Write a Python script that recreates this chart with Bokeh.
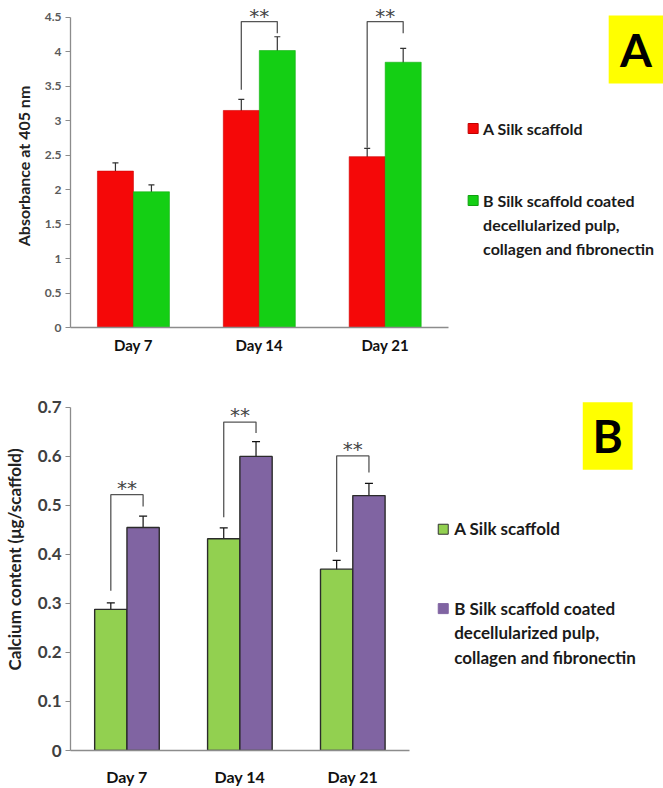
from bokeh.plotting import figure
from bokeh.layouts import column
from bokeh.models import ColumnDataSource, Range1d, FixedTicker, Whisker, TeeHead
from bokeh.transform import dodge
from bokeh.core.properties import value
from bokeh.embed import file_html
from bokeh.resources import INLINE

days = ["Day 7", "Day 14", "Day 21"]
series_names = ["A Silk scaffold",
                "B Silk scaffold coated\ndecellularized pulp,\ncollagen and fibronectin"]

# ---- Panel A : absorbance at 405 nm ----
a_silk = [2.27, 3.15, 2.48]
a_silk_err = [0.12, 0.16, 0.12]
a_coated = [1.97, 4.02, 3.85]
a_coated_err = [0.10, 0.20, 0.20]
a_ticks = [0, 0.5, 1, 1.5, 2, 2.5, 3, 3.5, 4, 4.5]
a_tick_labels = ["0", "0.5", "1", "1.5", "2", "2.5", "3", "3.5", "4", "4.5"]
a_sig_day = [1, 2]
a_sig_left = [3.45, 2.61]
a_sig_top = [4.44, 4.44]
a_sig_right = [4.27, 4.27]

# ---- Panel B : calcium content ----
b_silk = [0.288, 0.432, 0.370]
b_silk_err = [0.013, 0.022, 0.018]
b_coated = [0.455, 0.600, 0.520]
b_coated_err = [0.023, 0.030, 0.025]
b_ticks = [0, 0.1, 0.2, 0.3, 0.4, 0.5, 0.6, 0.7]
b_tick_labels = ["0", "0.1", "0.2", "0.3", "0.4", "0.5", "0.6", "0.7"]
b_sig_day = [0, 1, 2]
b_sig_left = [0.326, 0.476, 0.405]
b_sig_top = [0.522, 0.670, 0.601]
b_sig_right = [0.498, 0.648, 0.567]

FONT = "Lato"
BW = 0.286
LEFT = 68
W = 663


def panel(cfg):
    n = len(days)
    p = figure(width=W, height=cfg["height"], output_backend="svg", toolbar_location=None,
               x_range=Range1d(0, cfg["xend"]), y_range=Range1d(0, cfg["ytop"]),
               min_border_left=LEFT, min_border_right=0,
               min_border_top=cfg["btop"], min_border_bottom=cfg["bbottom"])
    p.outline_line_color = None
    p.grid.visible = False
    p.background_fill_color = "white"

    xs = [i + 0.5 for i in range(n)]
    src = ColumnDataSource(dict(
        x=xs, day=days,
        s1=cfg["s1"], s2=cfg["s2"],
        s1_up=[v + e for v, e in zip(cfg["s1"], cfg["e1"])],
        s1_lo=[v - e for v, e in zip(cfg["s1"], cfg["e1"])],
        s2_up=[v + e for v, e in zip(cfg["s2"], cfg["e2"])],
        s2_lo=[v - e for v, e in zip(cfg["s2"], cfg["e2"])],
    ))
    p.vbar(x=dodge("x", -BW / 2), top="s1", width=BW, source=src,
           fill_color=cfg["c1"], line_color=cfg["lc1"], line_width=cfg["lw"])
    p.vbar(x=dodge("x", BW / 2), top="s2", width=BW, source=src,
           fill_color=cfg["c2"], line_color=cfg["lc2"], line_width=cfg["lw"])

    for off, up, lo in [(-BW / 2, "s1_up", "s1_lo"), (BW / 2, "s2_up", "s2_lo")]:
        w = Whisker(source=src, base=dodge("x", off), upper=up, lower=lo,
                    line_color=cfg["errc"], line_width=1.2,
                    upper_head=TeeHead(size=cfg["cap"], line_color=cfg["errc"], line_width=1.2),
                    lower_head=TeeHead(size=cfg["cap"], line_color=cfg["errc"], line_width=1.2))
        p.add_layout(w)

    # significance brackets
    bxs, bys, sx, sy = [], [], [], []
    for d, l, t, r in zip(cfg["sig_day"], cfg["sig_left"], cfg["sig_top"], cfg["sig_right"]):
        xl = d + 0.5 - BW / 2
        xr = d + 0.5 + BW / 2
        bxs.append([xl, xl, xr, xr])
        bys.append([l, t, t, r])
        sx.append(d + 0.5)
        sy.append(t)
    p.multi_line(xs=bxs, ys=bys, line_color="#555555", line_width=1.3)
    p.text(x=sx, y=sy, text=["**"] * len(sx), text_align="center", text_baseline="bottom",
           y_offset=cfg["star_off"], text_font=value("DejaVu Sans"), text_font_size="20px",
           text_color="#444444")

    # axes
    yax = p.yaxis[0]
    yax.ticker = FixedTicker(ticks=cfg["ticks"])
    yax.major_label_overrides = {t: l for t, l in zip(cfg["ticks"], cfg["tick_labels"])}
    yax.bounds = (0, cfg["ticks"][-1])
    yax.minor_tick_line_color = None
    yax.major_tick_in = 0
    yax.major_tick_out = 5
    yax.axis_line_color = "#8c8c8c"
    yax.axis_line_width = 1.3
    yax.major_tick_line_color = "#8c8c8c"
    yax.major_label_text_font = FONT
    yax.major_label_text_font_size = cfg["tick_fs"]
    yax.major_label_text_font_style = cfg["tick_style"]
    yax.major_label_text_color = cfg["tick_col"]
    yax.major_label_standoff = 4
    yax.axis_label = cfg["ylabel"]
    yax.axis_label_text_font = FONT
    yax.axis_label_text_font_style = "bold"
    yax.axis_label_text_font_size = cfg["ylab_fs"]
    yax.axis_label_text_color = "#222222"
    yax.axis_label_standoff = cfg["ylab_standoff"]

    xax = p.xaxis[0]
    xax.ticker = FixedTicker(ticks=xs)
    xax.major_label_overrides = {x: d for x, d in zip(xs, days)}
    xax.bounds = (0, n)
    xax.minor_tick_line_color = None
    xax.major_tick_line_color = None
    xax.major_tick_out = 0
    xax.major_tick_in = 0
    xax.axis_label_standoff = 0
    xax.axis_line_color = "#8c8c8c"
    xax.axis_line_width = 1.3
    xax.major_label_text_font = FONT
    xax.major_label_text_font_style = "bold"
    xax.major_label_text_font_size = cfg["xlab_fs"]
    xax.major_label_text_color = "#111111"
    xax.major_label_standoff = cfg["xlab_standoff"]

    # legend (manual)
    lx, ly1, ly2, tx = cfg["leg"]
    p.scatter(x=[lx], y=[ly1], marker="square", size=10, fill_color=cfg["c1"],
              line_color=cfg["leg_lc1"], line_width=1)
    p.scatter(x=[lx], y=[ly2], marker="square", size=10, fill_color=cfg["c2"],
              line_color=cfg["leg_lc2"], line_width=1)
    p.text(x=[tx, tx], y=[ly1, ly2], text=series_names, text_align="left",
           text_baseline="top", y_offset=cfg["leg_off"], text_font=value(FONT),
           text_font_style="bold", text_font_size=cfg["leg_fs"], text_color="#1a1a1a",
           text_line_height=cfg["leg_lh"])

    # panel tag
    bx0, bx1, by0, by1, tag = cfg["tag"]
    p.quad(left=[bx0], right=[bx1], bottom=[by0], top=[by1], fill_color="#ffff00", line_color=None)
    p.text(x=[(bx0 + bx1) / 2], y=[(by0 + by1) / 2], text=[tag], text_align="center",
           text_baseline="middle", text_font=value(FONT), text_font_style="bold",
           text_font_size=cfg["tag_fs"], text_color="black")
    return p


FW = W - LEFT  # frame width in px

# panel A geometry (page px): axis 68..447 for 3 days, y: 0 at 327, 68.9 px per unit
ua = 126.3
pa = 68.9
A0 = 327
cfgA = dict(height=360, xend=FW / ua, ytop=(A0 - 4) / pa, btop=4, bbottom=360 - A0,
            s1=a_silk, s2=a_coated, e1=a_silk_err, e2=a_coated_err,
            c1="#f50808", c2="#14cf14", lc1="#d00000", lc2="#10b010", lw=0.6,
            errc="#333333", cap=6,
            sig_day=a_sig_day, sig_left=a_sig_left, sig_top=a_sig_top, sig_right=a_sig_right,
            star_off=6,
            ticks=a_ticks, tick_labels=a_tick_labels, tick_fs="12px", tick_style="bold",
            tick_col="#5a5a5a",
            ylabel="Absorbance at 405 nm", ylab_fs="16px", ylab_standoff=9,
            xlab_fs="15px", xlab_standoff=8,
            leg=((472 - LEFT) / ua, (A0 - 128) / pa, (A0 - 200) / pa, (482 - LEFT) / ua),
            leg_lc1="#c00000", leg_lc2="#10a010", leg_fs="16px", leg_lh=1.27, leg_off=-10,
            tag=((608 - LEFT) / ua, FW / ua, (A0 - 83) / pa, (A0 - 15) / pa, "A"),
            tag_fs="46px")

# panel B geometry (page px): figure starts at 360, axis 68..408, 0 at 753, 494 px per unit
ub = 113.3
pb = 494.0
B0 = 753 - 360
cfgB = dict(height=428, xend=FW / ub, ytop=(B0 - 8) / pb, btop=8, bbottom=428 - B0,
            s1=b_silk, s2=b_coated, e1=b_silk_err, e2=b_coated_err,
            c1="#92d050", c2="#8064a2", lc1="#2b2b2b", lc2="#2b2b2b", lw=1.4,
            errc="#111111", cap=8,
            sig_day=b_sig_day, sig_left=b_sig_left, sig_top=b_sig_top, sig_right=b_sig_right,
            star_off=5,
            ticks=b_ticks, tick_labels=b_tick_labels, tick_fs="17px", tick_style="bold",
            tick_col="#404040",
            ylabel="Calcium content (\u03bcg/scaffold)", ylab_fs="17px", ylab_standoff=10,
            xlab_fs="16px", xlab_standoff=16,
            leg=((442 - LEFT) / ub, (B0 - 170) / pb, (B0 - 250) / pb, (453 - LEFT) / ub),
            leg_lc1="#333333", leg_lc2="#8064a2", leg_fs="17px", leg_lh=1.17, leg_off=-11,
            tag=((582 - LEFT) / ub, (632 - LEFT) / ub, (B0 - 110) / pb, (B0 - 42) / pb, "B"),
            tag_fs="46px")

pA = panel(cfgA)
pB = panel(cfgB)
layout = column(pA, pB)

open("out.html", "w").write(file_html(layout, INLINE))
